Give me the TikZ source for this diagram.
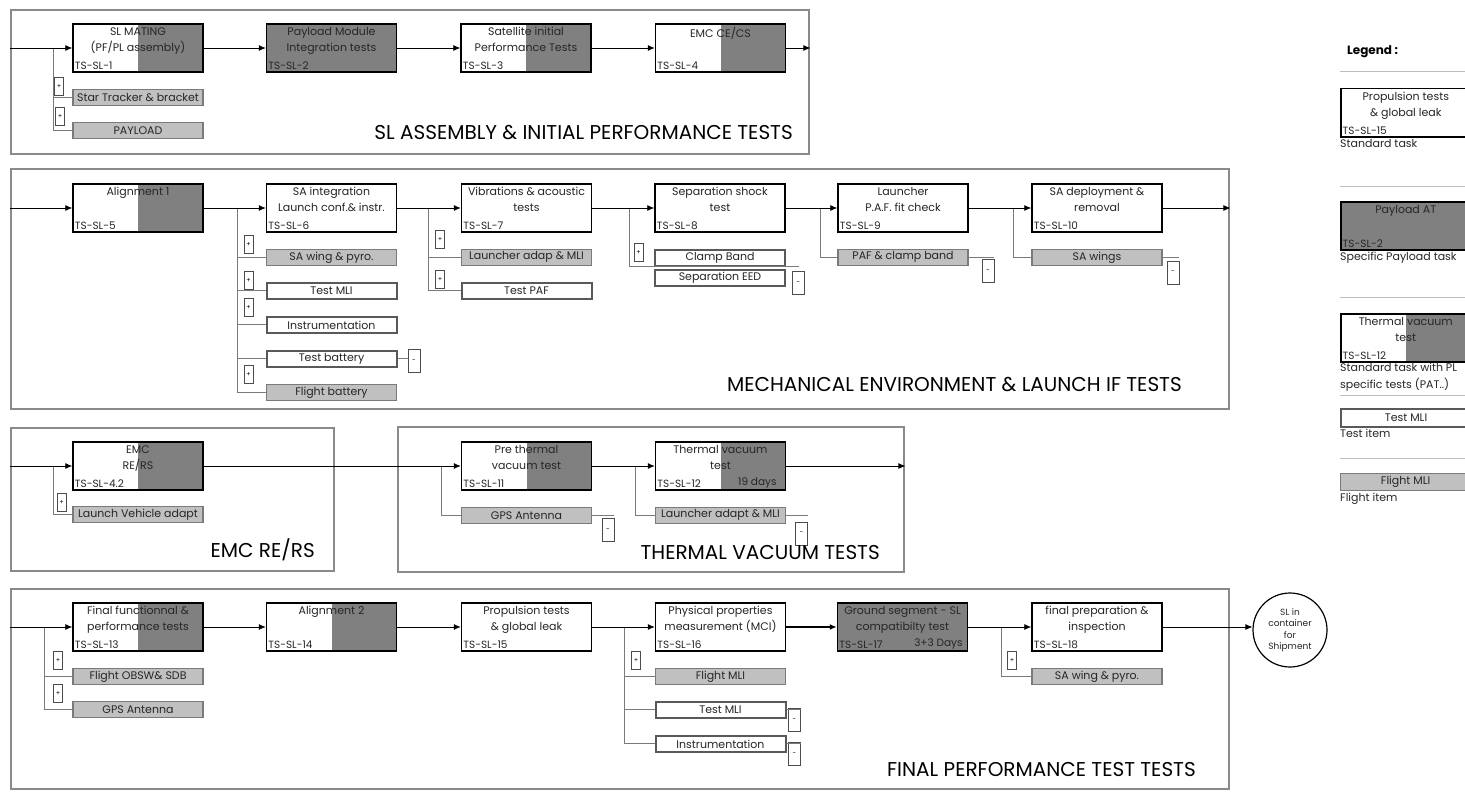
\documentclass[tikz,border=0pt]{standalone}
\usepackage{fontspec}
\setmainfont{Poppins}
\usetikzlibrary{arrows.meta, positioning}
\definecolor{TaskGray}{HTML}{808080}
\definecolor{ItemGray}{HTML}{C0C0C0}
\definecolor{FrameGray}{HTML}{8A8A8A}
\definecolor{WireGray}{HTML}{7A7A7A}
\definecolor{InkGray}{HTML}{262626}
\definecolor{RuleGray}{HTML}{BDBDBD}

\begin{document}
\begin{tikzpicture}[
    x=1pt, y=-1pt,
    % panels and task boxes
    panel/.style={draw=FrameGray, line width=2.4pt, anchor=north west, inner sep=0pt},
    task/.style={draw=black, line width=1.5pt, fill=white, minimum width=130pt, minimum height=48pt, inner sep=0pt},
    half task/.style={task, path picture={\fill[TaskGray] (path picture bounding box.north) rectangle (path picture bounding box.south east);}},
    gray task/.style={task, fill=TaskGray},
    task text/.style={font=\fontsize{11}{16}\selectfont, text=InkGray, align=center, inner sep=1pt},
    id text/.style={font=\fontsize{10.5}{12}\selectfont, text=InkGray, inner sep=2.5pt, anchor=south west},
    % items hanging below a task
    flight item/.style={draw=WireGray, line width=1.2pt, fill=ItemGray, minimum width=130pt, minimum height=16pt, inner sep=0pt, font=\fontsize{11}{12}\selectfont, text=InkGray},
    test item/.style={flight item, draw=black!65, line width=2pt, fill=white},
    plus box/.style={draw=black!70, line width=0.6pt, fill=white, minimum width=9pt, minimum height=18pt, inner sep=0pt, font=\fontsize{6.5}{6.5}\selectfont},
    minus box/.style={plus box, minimum width=12pt, minimum height=23pt},
    % connectors
    flow/.style={draw=black, line width=0.8pt, -{Latex[length=7pt, width=6pt]}},
    branch/.style={draw=WireGray, line width=1pt},
    title text/.style={font=\fontsize{20}{24}\selectfont, anchor=east, inner sep=0pt},
    legend text/.style={font=\fontsize{11}{17}\selectfont, text=InkGray, align=left, anchor=north west, inner sep=0pt}
]
    \useasboundingbox (0,0) rectangle (1465,792);
    \clip (0,0) rectangle (1465,792);

    % -------------------------------------
    % SL assembly & initial performance tests
    % -------------------------------------
    \node[panel, minimum width=798pt, minimum height=144pt] (p1) at (10,9) {};
    \node[half task] (t1) at (138,48) {};
    \node[task text, below=3pt of t1.north] (t1n) {SL MATING\\(PF/PL assembly)};
    \node[id text] (t1i) at (t1.south west) {TS-SL-1};
    \node[gray task] (t2) at (331.5,48) {};
    \node[task text, below=3pt of t2.north] (t2n) {Payload Module\\Integration tests};
    \node[id text] (t2i) at (t2.south west) {TS-SL-2};
    \node[half task] (t3) at (526,48) {};
    \node[task text, below=3pt of t3.north] (t3n) {Satellite initial\\Performance Tests};
    \node[id text] (t3i) at (t3.south west) {TS-SL-3};
    \node[half task] (t4) at (720.5,48) {};
    \node[task text, below=3pt of t4.north] (t4n) {EMC CE/CS};
    \node[id text] (t4i) at (t4.south west) {TS-SL-4};

    \node[flight item, below=16pt of t1] (st1) {Star Tracker \& bracket};
    \node[flight item, below=16pt of st1] (pay1) {PAYLOAD};
    \coordinate (j1) at (53,48);
    \draw[branch] (j1) |- (st1.west);
    \draw[branch] (j1) |- (pay1.west);
    \node[plus box] (pl1) at (59,86) {+};
    \node[plus box] (pl2) at (60,116) {+};

    \draw[flow] (p1.west |- t1.west) -- (t1.west);
    \draw[flow] (t1.east) -- (t2.west);
    \draw[flow] (t2.east) -- (t3.west);
    \draw[flow] (t3.east) -- (t4.west);
    \draw[flow] (t4.east) -- (p1.east |- t4.east);
    \node[title text] (p1t) at (793,133) {SL ASSEMBLY \& INITIAL PERFORMANCE TESTS};

    % -------------------------------------
    % Mechanical environment & launch IF tests
    % -------------------------------------
    \node[panel, minimum width=1218pt, minimum height=240pt] (p2) at (10,168) {};
    \node[half task] (t5) at (138,208) {};
    \node[task text, below=3pt of t5.north] (t5n) {Alignment 1};
    \node[id text] (t5i) at (t5.south west) {TS-SL-5};
    \node[task] (t6) at (331.5,208) {};
    \node[task text, below=3pt of t6.north] (t6n) {SA integration\\Launch conf.\& instr.};
    \node[id text] (t6i) at (t6.south west) {TS-SL-6};
    \node[task] (t7) at (526.5,208) {};
    \node[task text, below=3pt of t7.north] (t7n) {Vibrations \& acoustic\\tests};
    \node[id text] (t7i) at (t7.south west) {TS-SL-7};
    \node[task] (t8) at (720,208) {};
    \node[task text, below=3pt of t8.north] (t8n) {Separation shock\\test};
    \node[id text] (t8i) at (t8.south west) {TS-SL-8};
    \node[task] (t9) at (903,208) {};
    \node[task text, below=3pt of t9.north] (t9n) {Launcher\\P.A.F. fit check};
    \node[id text] (t9i) at (t9.south west) {TS-SL-9};
    \node[task] (t10) at (1097,208) {};
    \node[task text, below=3pt of t10.north] (t10n) {SA deployment \&\\removal};
    \node[id text] (t10i) at (t10.south west) {TS-SL-10};

    % items of SA integration
    \node[flight item, below=16pt of t6] (saw6) {SA wing \& pyro.};
    \node[test item, below=16pt of saw6] (tmli6) {Test MLI};
    \node[test item, below=16pt of tmli6] (inst6) {Instrumentation};
    \node[test item, below=16pt of inst6] (tbat6) {Test battery};
    \node[flight item, below=16pt of tbat6] (fbat6) {Flight battery};
    \coordinate (j6) at (237,208);
    \foreach \it in {saw6, tmli6, inst6, tbat6, fbat6}
        \draw[branch] (j6) |- (\it.west);
    \node[plus box] (pl3) at (248.5,244.5) {+};
    \node[plus box] (pl4) at (248.5,280) {+};
    \node[plus box] (pl5) at (248.5,307.5) {+};
    \node[plus box] (pl6) at (248.5,374) {+};
    \node[minus box] (mb1) at (414,361) {-};
    \draw[branch] (tbat6.east) -- (mb1.west |- tbat6.east);

    % items of vibrations
    \node[flight item, below=16pt of t7] (lam7) {Launcher adap \& MLI};
    \node[test item, below=16pt of lam7] (tpaf7) {Test PAF};
    \coordinate (j7) at (428,208);
    \draw[branch] (j7) |- (lam7.west);
    \draw[branch] (j7) |- (tpaf7.west);
    \node[plus box] (pl7) at (440,239.5) {+};
    \node[plus box] (pl8) at (440,279) {+};

    % items of separation shock
    \node[test item, below=16pt of t8] (clamp8) {Clamp Band};
    \node[test item, below=2pt of clamp8] (seed8) {Separation EED};
    \coordinate (j8) at (629,208);
    \node[minus box] (mb2) at (798.5,283) {-};
    \draw[branch] (j8) |- (mb2.north |- clamp8.south);
    \node[plus box] (pl9) at (638.5,252.5) {+};

    % items of launcher fit check
    \node[flight item, below=16pt of t9] (pafc9) {PAF \& clamp band};
    \coordinate (j9) at (820,208);
    \draw[branch] (j9) |- (pafc9.west);
    \node[minus box] (mb3) at (988,271) {-};
    \draw[branch] (pafc9.east) -- (mb3.north east |- pafc9.east);

    % items of SA deployment
    \node[flight item, below=16pt of t10] (saws10) {SA wings};
    \coordinate (j10) at (1013,208);
    \draw[branch] (j10) |- (saws10.west);
    \node[minus box] (mb4) at (1173,272.5) {-};
    \draw[branch] (saws10.east) -- (mb4.north east |- saws10.east);

    \draw[flow] (p2.west |- t5.west) -- (t5.west);
    \draw[flow] (t5.east) -- (t6.west);
    \draw[flow] (t6.east) -- (t7.west);
    \draw[flow] (t7.east) -- (t8.west);
    \draw[flow] (t8.east) -- (t9.west);
    \draw[flow] (t9.east) -- (t10.west);
    \draw[flow] (t10.east) -- (p2.east |- t10.east);
    \node[title text] (p2t) at (1182,385) {MECHANICAL ENVIRONMENT \& LAUNCH IF TESTS};

    % -------------------------------------
    % EMC RE/RS
    % -------------------------------------
    \node[panel, minimum width=323pt, minimum height=143pt] (p3) at (10,427) {};
    \node[half task] (t42) at (138,466) {};
    \node[task text, below=3pt of t42.north] (t42n) {EMC\\RE/RS};
    \node[id text] (t42i) at (t42.south west) {TS-SL-4.2};
    \node[flight item, below=15pt of t42] (lva42) {Launch Vehicle adapt};
    \coordinate (j42) at (53,466);
    \draw[branch] (j42) |- (lva42.west);
    \node[plus box] (pl10) at (61.5,502) {+};
    \draw[flow] (p3.west |- t42.west) -- (t42.west);
    \node[title text] (p3t) at (315,550) {EMC RE/RS};

    % -------------------------------------
    % Thermal vacuum tests
    % -------------------------------------
    \node[panel, minimum width=506pt, minimum height=145pt] (p4) at (397,426) {};
    \node[half task] (t11) at (526.5,466) {};
    \node[task text, below=3pt of t11.north] (t11n) {Pre thermal\\vacuum test};
    \node[id text] (t11i) at (t11.south west) {TS-SL-11};
    \node[half task] (t12) at (720.5,466) {};
    \node[task text, below=3pt of t12.north] (t12n) {Thermal vacuum\\test};
    \node[id text] (t12i) at (t12.south west) {TS-SL-12};
    \node[id text, anchor=south east, xshift=-7pt] (t12d) at (t12.south east) {19 days};

    \node[flight item, below=16pt of t11] (gps11) {GPS Antenna};
    \coordinate (j11) at (441,466);
    \draw[branch] (j11) |- (gps11.west);
    \node[minus box] (mb5) at (608,530) {-};
    \draw[branch] (gps11.east) -- (mb5.north east |- gps11.east);

    \node[flight item, below=16pt of t12] (lam12) {Launcher adapt \& MLI};
    \coordinate (j12) at (635,466);
    \draw[branch] (j12) |- (lam12.west);
    \node[minus box] (mb6) at (801.5,533.5) {-};
    \draw[branch] (lam12.east) -- (mb6.north east |- lam12.east);

    \draw[flow] (t42.east) -- (t11.west);
    \draw[flow] (t11.east) -- (t12.west);
    \draw[flow] (t12.east) -- (p4.east |- t12.east);
    \node[title text] (p4t) at (880,553) {THERMAL VACUUM TESTS};

    % -------------------------------------
    % Final performance tests
    % -------------------------------------
    \node[panel, minimum width=1218pt, minimum height=200pt] (p5) at (10,588) {};
    \node[half task] (t13) at (138,627) {};
    \node[task text, below=3pt of t13.north] (t13n) {Final functionnal \&\\performance tests};
    \node[id text] (t13i) at (t13.south west) {TS-SL-13};
    \node[half task] (t14) at (331.5,627) {};
    \node[task text, below=3pt of t14.north] (t14n) {Alignment 2};
    \node[id text] (t14i) at (t14.south west) {TS-SL-14};
    \node[task] (t15) at (526.5,627) {};
    \node[task text, below=3pt of t15.north] (t15n) {Propulsion tests\\\& global leak};
    \node[id text] (t15i) at (t15.south west) {TS-SL-15};
    \node[task] (t16) at (720.5,627) {};
    \node[task text, below=3pt of t16.north] (t16n) {Physical properties\\measurement (MCI)};
    \node[id text] (t16i) at (t16.south west) {TS-SL-16};
    \node[gray task] (t17) at (902.5,627) {};
    \node[task text, below=3pt of t17.north] (t17n) {Ground segment - SL\\compatibilty test};
    \node[id text] (t17i) at (t17.south west) {TS-SL-17};
    \node[id text, anchor=south east, xshift=-3pt] (t17d) at (t17.south east) {3+3 Days};
    \node[task] (t18) at (1097,627) {};
    \node[task text, below=3pt of t18.north] (t18n) {final preparation \&\\inspection};
    \node[id text] (t18i) at (t18.south west) {TS-SL-18};
    \node[draw=black, line width=1.2pt, fill=white, circle, minimum size=74pt, inner sep=0pt, align=center,
          font=\fontsize{9}{11.5}\selectfont, text=InkGray] (ship) at (1290,630) {SL in\\container\\for\\Shipment};

    \node[flight item, below=16pt of t13] (obsw13) {Flight OBSW\& SDB};
    \node[flight item, below=16pt of obsw13] (gps13) {GPS Antenna};
    \coordinate (j13) at (44,627);
    \draw[branch] (j13) |- (obsw13.west);
    \draw[branch] (j13) |- (gps13.west);
    \node[plus box] (pl11) at (58,660) {+};
    \node[plus box] (pl12) at (58,693) {+};

    \node[flight item, below=16pt of t16] (fmli16) {Flight MLI};
    \node[test item, below=16pt of fmli16] (tmli16) {Test MLI};
    \node[test item, below=16pt of tmli16] (inst16) {Instrumentation};
    \coordinate (j15) at (624,627);
    \foreach \it in {fmli16, tmli16, inst16}
        \draw[branch] (j15) |- (\it.west);
    \node[plus box] (pl13) at (636,660) {+};
    \node[minus box] (mb7) at (794.5,720) {-};
    \node[minus box] (mb8) at (794.5,754) {-};
    \draw[branch] (tmli16.east) -- (mb7.north east |- tmli16.east);
    \draw[branch] (inst16.east) -- (mb8.north east |- inst16.east);

    \node[flight item, below=16pt of t18] (saw18) {SA wing \& pyro.};
    \coordinate (j17) at (1001,627);
    \draw[branch] (j17) |- (saw18.west);
    \node[plus box] (pl14) at (1012,660) {+};

    \draw[flow] (p5.west |- t13.west) -- (t13.west);
    \draw[flow] (t13.east) -- (t14.west);
    \draw[flow] (t14.east) -- (t15.west);
    \draw[flow] (t15.east) -- (t16.west);
    \draw[flow, line width=2pt] (t16.east) -- (t17.west);
    \draw[flow] (t17.east) -- (t18.west);
    \draw[flow] (t18.east) -- (t18.east -| ship.west);
    \node[title text] (p5t) at (1196,770) {FINAL PERFORMANCE TEST TESTS};

    % -------------------------------------
    % Legend
    % -------------------------------------
    \node[font=\bfseries\fontsize{12}{14}\selectfont, anchor=west, inner sep=0pt] (lgh) at (1347,52) {Legend :};
    \foreach \y in {72, 186, 297, 395, 458}
        \draw[RuleGray, line width=1pt] (1340,\y) -- (1465,\y);

    \node[task, anchor=north west] (lg1) at (1340,88) {};
    \node[task text, below=3pt of lg1.north] (lg1n) {Propulsion tests\\\& global leak};
    \node[id text] (lg1i) at (lg1.south west) {TS-SL-15};
    \node[legend text] (lg1l) at (1340,139) {Standard task};

    \node[gray task, anchor=north west] (lg2) at (1340,201) {};
    \node[task text, below=3pt of lg2.north] (lg2n) {Payload AT};
    \node[id text] (lg2i) at (lg2.south west) {TS-SL-2};
    \node[legend text] (lg2l) at (1340,252) {Specific Payload task};

    \node[half task, anchor=north west] (lg3) at (1340,313) {};
    \node[task text, below=3pt of lg3.north] (lg3n) {Thermal vacuum\\test};
    \node[id text] (lg3i) at (lg3.south west) {TS-SL-12};
    \node[legend text] (lg3l) at (1340,363) {Standard task with PL\\specific tests (PAT..)};

    \node[test item, anchor=north west, minimum height=18pt] (lg4) at (1340,408) {Test MLI};
    \node[legend text] (lg4l) at (1340,429) {Test item};

    \node[flight item, anchor=north west, minimum height=17pt] (lg5) at (1340,473) {Flight MLI};
    \node[legend text] (lg5l) at (1340,493) {Flight item};
\end{tikzpicture}
\end{document}
